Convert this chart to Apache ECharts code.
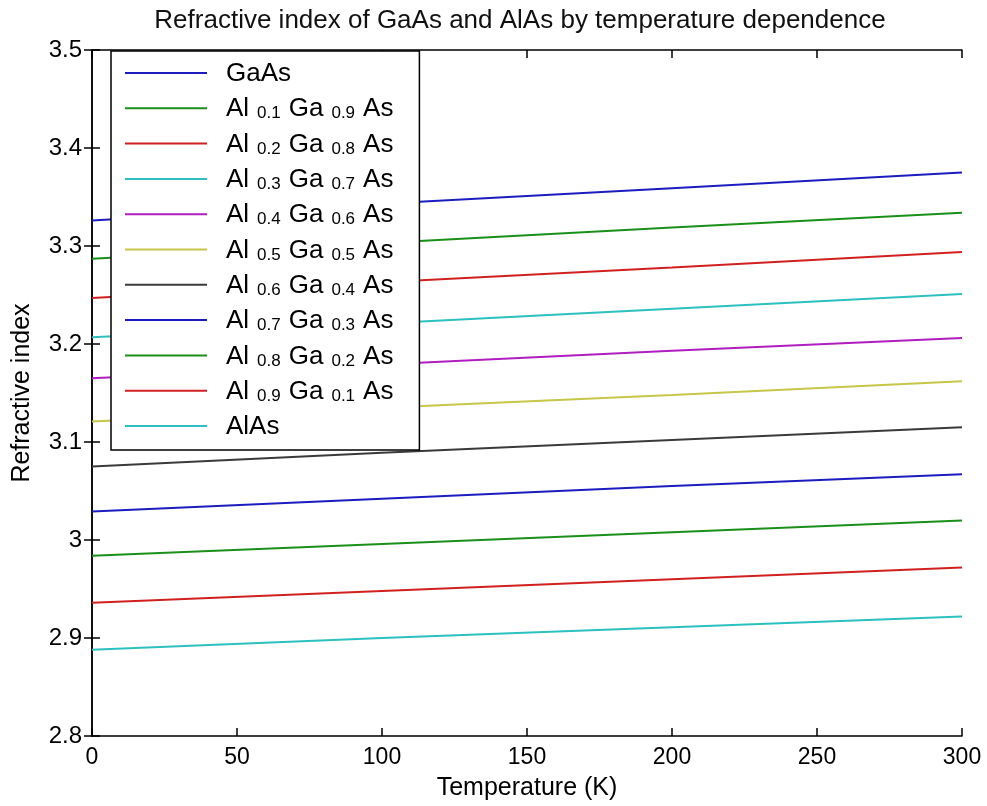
<!DOCTYPE html>
<html>
<head>
<meta charset="utf-8">
<script src="https://cdn.jsdelivr.net/npm/echarts@6/dist/echarts.min.js"></script>
<style>
  html, body { margin: 0; padding: 0; background: #ffffff; }
  #chart { width: 987px; height: 806px; }
</style>
</head>
<body>
<div id="chart"></div>
<script>
// Temperatures (K) at which the refractive index is sampled
const temperatures = [0, 100, 200, 300];

// Alloy labels: [Al fraction, Ga fraction]; empty entries are the binary compounds
const seriesNames = [
  'GaAs',
  'Al 0.1 Ga 0.9 As',
  'Al 0.2 Ga 0.8 As',
  'Al 0.3 Ga 0.7 As',
  'Al 0.4 Ga 0.6 As',
  'Al 0.5 Ga 0.5 As',
  'Al 0.6 Ga 0.4 As',
  'Al 0.7 Ga 0.3 As',
  'Al 0.8 Ga 0.2 As',
  'Al 0.9 Ga 0.1 As',
  'AlAs'
];

// Refractive index of each composition at the temperatures above
const nGaAs   = [3.326, 3.343, 3.359, 3.375];
const nAl01   = [3.287, 3.303, 3.319, 3.334];
const nAl02   = [3.247, 3.263, 3.278, 3.294];
const nAl03   = [3.207, 3.221, 3.236, 3.251];
const nAl04   = [3.165, 3.179, 3.193, 3.206];
const nAl05   = [3.121, 3.135, 3.148, 3.162];
const nAl06   = [3.075, 3.089, 3.102, 3.115];
const nAl07   = [3.029, 3.042, 3.055, 3.067];
const nAl08   = [2.984, 2.996, 3.008, 3.020];
const nAl09   = [2.936, 2.948, 2.960, 2.972];
const nAlAs   = [2.888, 2.900, 2.911, 2.922];

const allValues = [nGaAs, nAl01, nAl02, nAl03, nAl04, nAl05, nAl06, nAl07, nAl08, nAl09, nAlAs];

// Classic plotting colour order, cycled
const lineColors = [
  '#1c1cc0', '#1a8f1a', '#d22020', '#2cc0c0', '#b01ec0',
  '#c6c64a', '#3a3a3a', '#1c1cc0', '#1a8f1a', '#d22020', '#2cc0c0'
];

const FONT = '"Liberation Sans", Arial, Helvetica, sans-serif';

const series = allValues.map((vals, i) => ({
  name: seriesNames[i],
  type: 'line',
  symbol: 'none',
  xAxisIndex: 0,
  yAxisIndex: 0,
  lineStyle: { width: 2, color: lineColors[i] },
  itemStyle: { color: lineColors[i] },
  data: temperatures.map((t, k) => [t, vals[k]]),
  z: 2
}));

// Legend entries: chemical formula with smaller stoichiometry numbers
function legendLabel(name) {
  const parts = name.split(' ');
  if (parts.length === 5) {
    return '{n|' + parts[0] + '}{s|' + parts[1] + '}{n|' + parts[2] + '}{s|' + parts[3] + '}{n|' + parts[4] + '}';
  }
  return '{n|' + name + '}';
}

const axisLine = { show: true, lineStyle: { color: '#000', width: 1.5 } };
const axisTick = { show: true, inside: true, length: 8, lineStyle: { color: '#000', width: 1.5 } };

const option = {
  backgroundColor: '#ffffff',
  animation: false,
  title: {
    text: 'Refractive index of GaAs and AlAs by temperature dependence',
    left: 520,
    top: 8,
    padding: 0,
    textAlign: 'center',
    textStyle: { fontFamily: FONT, fontSize: 26, fontWeight: 'normal', color: '#111' }
  },
  grid: { left: 92, right: 25, top: 50, bottom: 70, containLabel: false },
  legend: {
    orient: 'vertical',
    left: 111,
    top: 51,
    selectedMode: false,
    icon: 'rect',
    itemWidth: 82,
    itemHeight: 2,
    itemGap: 9.3,
    padding: [10, 26, 10, 14],
    backgroundColor: '#ffffff',
    borderColor: '#000',
    borderWidth: 1.5,
    data: seriesNames,
    formatter: legendLabel,
    textStyle: {
      fontFamily: FONT,
      color: '#000',
      padding: [0, 0, 0, 14],
      rich: {
        n: { fontFamily: FONT, fontSize: 26, lineHeight: 28, color: '#000', verticalAlign: 'bottom' },
        s: { fontFamily: FONT, fontSize: 17, lineHeight: 28, color: '#000', verticalAlign: 'bottom', padding: [0, 8, 0, 8] }
      }
    },
    z: 10
  },
  xAxis: [
    {
      type: 'value',
      min: 0, max: 300, interval: 50,
      name: 'Temperature (K)',
      nameLocation: 'middle',
      nameGap: 40,
      nameTextStyle: { fontFamily: FONT, fontSize: 25, color: '#000' },
      axisLine, axisTick,
      axisLabel: { fontFamily: FONT, fontSize: 23, color: '#000', margin: 10 },
      splitLine: { show: false }
    },
    {
      type: 'value', position: 'top',
      min: 0, max: 300, interval: 50,
      axisLine, axisTick,
      axisLabel: { show: false },
      splitLine: { show: false }
    }
  ],
  yAxis: [
    {
      type: 'value',
      min: 2.8, max: 3.5, interval: 0.1,
      name: 'Refractive index',
      nameLocation: 'middle',
      nameGap: 57,
      nameTextStyle: { fontFamily: FONT, fontSize: 25, color: '#000' },
      axisLine, axisTick,
      axisLabel: {
        fontFamily: FONT, fontSize: 24, color: '#000', margin: 10,
        formatter: v => String(Math.round(v * 10) / 10)
      },
      splitLine: { show: false }
    },
    {
      type: 'value', position: 'right',
      min: 2.8, max: 3.5, interval: 0.1,
      axisLine, axisTick,
      axisLabel: { show: false },
      splitLine: { show: false }
    }
  ],
  series
};

const chart = echarts.init(document.getElementById('chart'), null, { renderer: 'canvas' });
chart.setOption(option);
</script>
</body>
</html>
